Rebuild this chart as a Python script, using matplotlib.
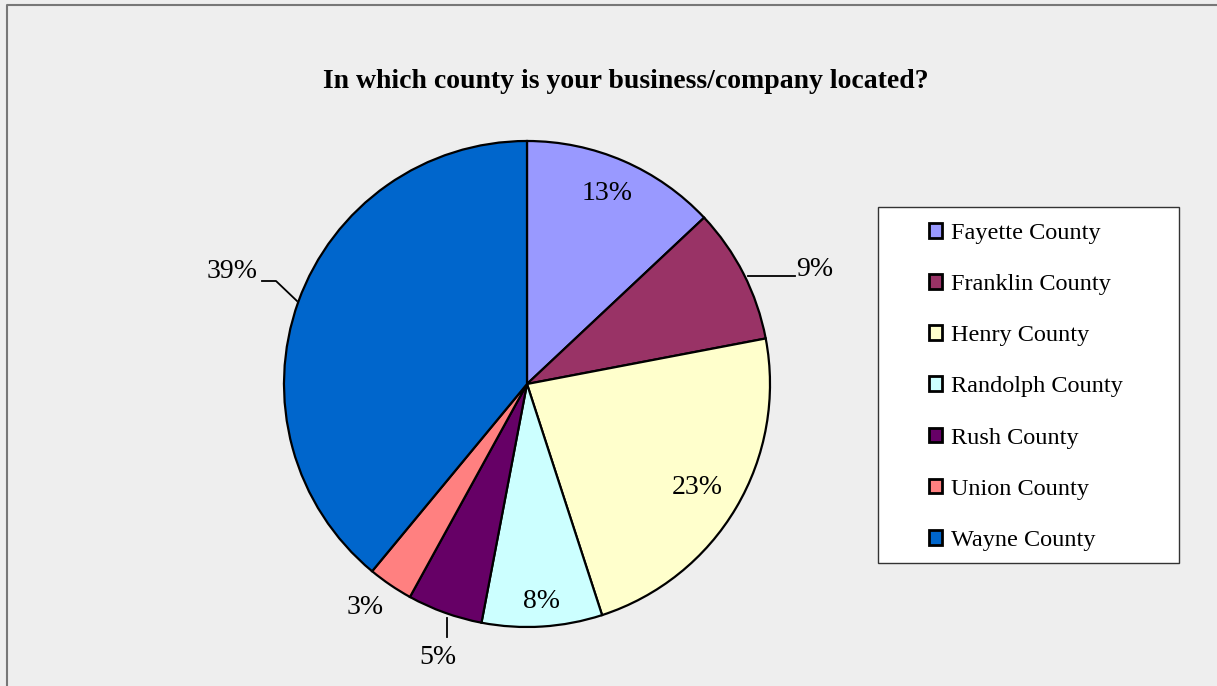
import matplotlib
matplotlib.use("Agg")
import matplotlib.pyplot as plt
from matplotlib.patches import Rectangle

plt.rcParams['font.family'] = ['Liberation Serif', 'DejaVu Serif']

counties = ['Fayette County', 'Franklin County', 'Henry County', 'Randolph County',
            'Rush County', 'Union County', 'Wayne County']
shares = [13, 9, 23, 8, 5, 3, 39]
colors = ['#9999FF', '#993366', '#FFFFCC', '#CCFFFF', '#660066', '#FF8080', '#0066CC']

W, H = 1217, 686
fig = plt.figure(figsize=(W / 100, H / 100), dpi=100)
fig.patch.set_facecolor('#EEEEEE')
ax = fig.add_axes([0, 0, 1, 1])

# outer chart border (left and top visible)
ax.plot([7, 7, W + 5], [-5, H - 5, H - 5], color='#777777', lw=1.5, clip_on=False)

cx, cy, R = 527, H - 384, 243
wedges, _ = ax.pie(shares, colors=colors, startangle=90, counterclock=False,
                   center=(cx, cy), radius=R, frame=True,
                   wedgeprops=dict(edgecolor='black', linewidth=1.6))
ax.set_xlim(0, W)
ax.set_ylim(0, H)
ax.set_aspect('auto')
ax.axis('off')

# percentage labels (pixel positions measured from the top-left corner)
label_pos = [(607, 193), (815, 270), (697, 487), (542, 602), (438, 657), (365, 608), (232, 272)]
for v, (px, py) in zip(shares, label_pos):
    ax.text(px, H - py, f'{v}%', ha='center', va='center', fontsize=20)

# leader lines
ax.plot([748, 795], [H - 276, H - 276], color='black', lw=1.3)
ax.plot([262, 276, 297], [H - 281, H - 281, H - 301], color='black', lw=1.3)
ax.plot([447, 447], [H - 618, H - 637], color='black', lw=1.3)

ax.text(626, H - 82, 'In which county is your business/company located?',
        ha='center', va='center', fontsize=20, fontweight='bold')

# legend box
ax.add_patch(Rectangle((878, H - 563), 301, 356, facecolor='white',
                       edgecolor='#333333', lw=1.0, zorder=3))
leg = ax.legend(wedges, counties, loc='upper left', bbox_to_anchor=(929, H - 223),
                bbox_transform=ax.transData, frameon=False, fontsize=17.5,
                borderpad=0, borderaxespad=0, handlelength=0.55, handleheight=0.55,
                handletextpad=0.37, labelspacing=1.24)
leg.set_zorder(4)
for h in leg.legend_handles:
    h.set_linewidth(2.0)

fig.savefig('out.png', dpi=100, facecolor=fig.get_facecolor())
